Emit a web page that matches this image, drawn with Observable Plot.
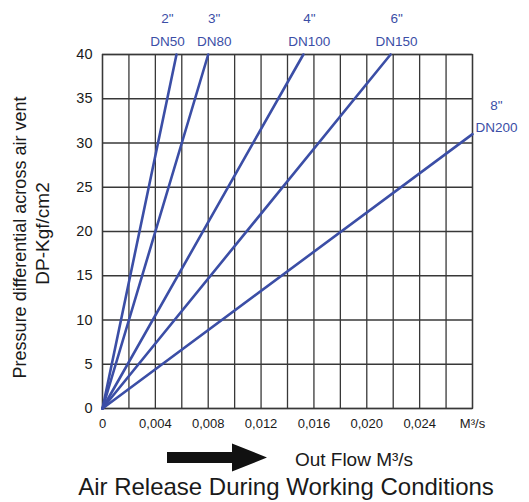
<!DOCTYPE html>
<html>
<head>
<meta charset="utf-8">
<script src="https://cdn.jsdelivr.net/npm/d3@7"></script>
<script src="https://cdn.jsdelivr.net/npm/@observablehq/plot@0.6"></script>
<style>
  body { margin: 0; background: #fff; font-family: "Liberation Sans", Arial, sans-serif; }
  #title { width: 529px; box-sizing: border-box; padding-left: 43px; text-align: center;
           font-size: 24px; line-height: 30px; color: #1a1a1a; white-space: nowrap; }
</style>
</head>
<body>
<div id="chart"></div>
<div id="title">Air Release During Working Conditions</div>
<script>
// ---- data ----
const xTicks = [0, 0.004, 0.008, 0.012, 0.016, 0.020, 0.024, 0.028];
const xTickLabels = ["0", "0,004", "0,008", "0,012", "0,016", "0,020", "0,024", "M³/s"];
const xGridValues = [0, 0.002, 0.004, 0.006, 0.008, 0.010, 0.012, 0.014, 0.016, 0.018, 0.020, 0.022, 0.024, 0.026, 0.028];
const yTicks = [0, 5, 10, 15, 20, 25, 30, 35, 40];
const sizes = ['2"', '3"', '4"', '6"', '8"'];
const dnLabels = ["DN50", "DN80", "DN100", "DN150", "DN200"];
const flowAtEnd = [0.0056, 0.008, 0.0152, 0.0218, 0.028];
const pressureAtEnd = [40, 40, 40, 40, 31];
const yTitle1 = "Pressure differential across air vent";
const yTitle2 = "DP-Kgf/cm2";
const xTitle = "Out Flow M³/s";

// ---- derived tables ----
const labelMap = new Map(xTicks.map((v, i) => [v, xTickLabels[i]]));
const lineData = sizes.flatMap((s, i) => [
  {series: s, flow: 0, pressure: 0},
  {series: s, flow: flowAtEnd[i], pressure: pressureAtEnd[i]}
]);
const ends = sizes.map((s, i) => ({series: s, dn: dnLabels[i], flow: flowAtEnd[i], pressure: pressureAtEnd[i], i}));

const blue = "#3b4ea6";
const gridColor = "#383838";
const font = "Liberation Sans, Arial, sans-serif";

function arrowMark(index, scales, values, dims) {
  const ns = "http://www.w3.org/2000/svg";
  const p = document.createElementNS(ns, "path");
  const x0 = dims.marginLeft + 65, xh = dims.marginLeft + 130, xt = dims.marginLeft + 165;
  const yc = dims.height - dims.marginBottom + 49.5;
  p.setAttribute("d", `M${x0},${yc - 5.5}L${xh},${yc - 5.5}L${xh},${yc - 14}L${xt},${yc}L${xh},${yc + 14}L${xh},${yc + 5.5}L${x0},${yc + 5.5}Z`);
  p.setAttribute("fill", "#111");
  return p;
}

const chart = Plot.plot({
  width: 529,
  height: 472,
  marginTop: 54,
  marginBottom: 64,
  marginLeft: 102,
  marginRight: 57,
  style: {fontFamily: font, fontSize: "14px", color: "#1a1a1a", background: "#fff"},
  x: {domain: [0, 0.028]},
  y: {domain: [0, 40]},
  marks: [
    Plot.gridX(xGridValues, {stroke: gridColor, strokeOpacity: 1, strokeWidth: 1.3}),
    Plot.gridY(yTicks, {stroke: gridColor, strokeOpacity: 1, strokeWidth: 1.3}),
    Plot.frame({stroke: gridColor, strokeWidth: 1.3}),
    Plot.axisX(xTicks, {tickSize: 0, tickPadding: 10, fontSize: 13, tickFormat: d => labelMap.get(d), label: null}),
    Plot.axisY(yTicks, {tickSize: 0, tickPadding: 10, fontSize: 14.5, label: null}),
    Plot.line(lineData, {x: "flow", y: "pressure", z: "series", stroke: blue, strokeWidth: 2.6}),
    Plot.text(ends.filter(d => d.i === 0), {x: "flow", y: "pressure", text: d => d.series + "\n" + d.dn,
      fill: blue, fontSize: 13.5, lineHeight: 1.7, lineAnchor: "middle", dx: -9, dy: -27}),
    Plot.text(ends.filter(d => d.i > 0 && d.i < 4), {x: "flow", y: "pressure", text: d => d.series + "\n" + d.dn,
      fill: blue, fontSize: 13.5, lineHeight: 1.7, lineAnchor: "middle", dx: 6, dy: -27}),
    Plot.text(ends.filter(d => d.i === 4), {x: "flow", y: "pressure", text: d => d.series + "\n" + d.dn,
      fill: blue, fontSize: 13.5, lineHeight: 1.63, lineAnchor: "middle", dx: 24, dy: -20}),
    Plot.text([yTitle1], {frameAnchor: "left", text: d => d, rotate: -90, dx: -82, dy: 6, fontSize: 18, textAnchor: "middle", lineAnchor: "middle", fill: "#1a1a1a"}),
    Plot.text([yTitle2], {frameAnchor: "left", text: d => d, rotate: -90, dx: -60, dy: 2, fontSize: 19, textAnchor: "middle", lineAnchor: "middle", fill: "#1a1a1a"}),
    Plot.text([xTitle], {frameAnchor: "bottom", text: d => d, dx: 66.5, dy: 51, fontSize: 19, lineAnchor: "middle", fill: "#1a1a1a"}),
    arrowMark
  ]
});
document.getElementById("chart").appendChild(chart);
</script>
</body>
</html>
